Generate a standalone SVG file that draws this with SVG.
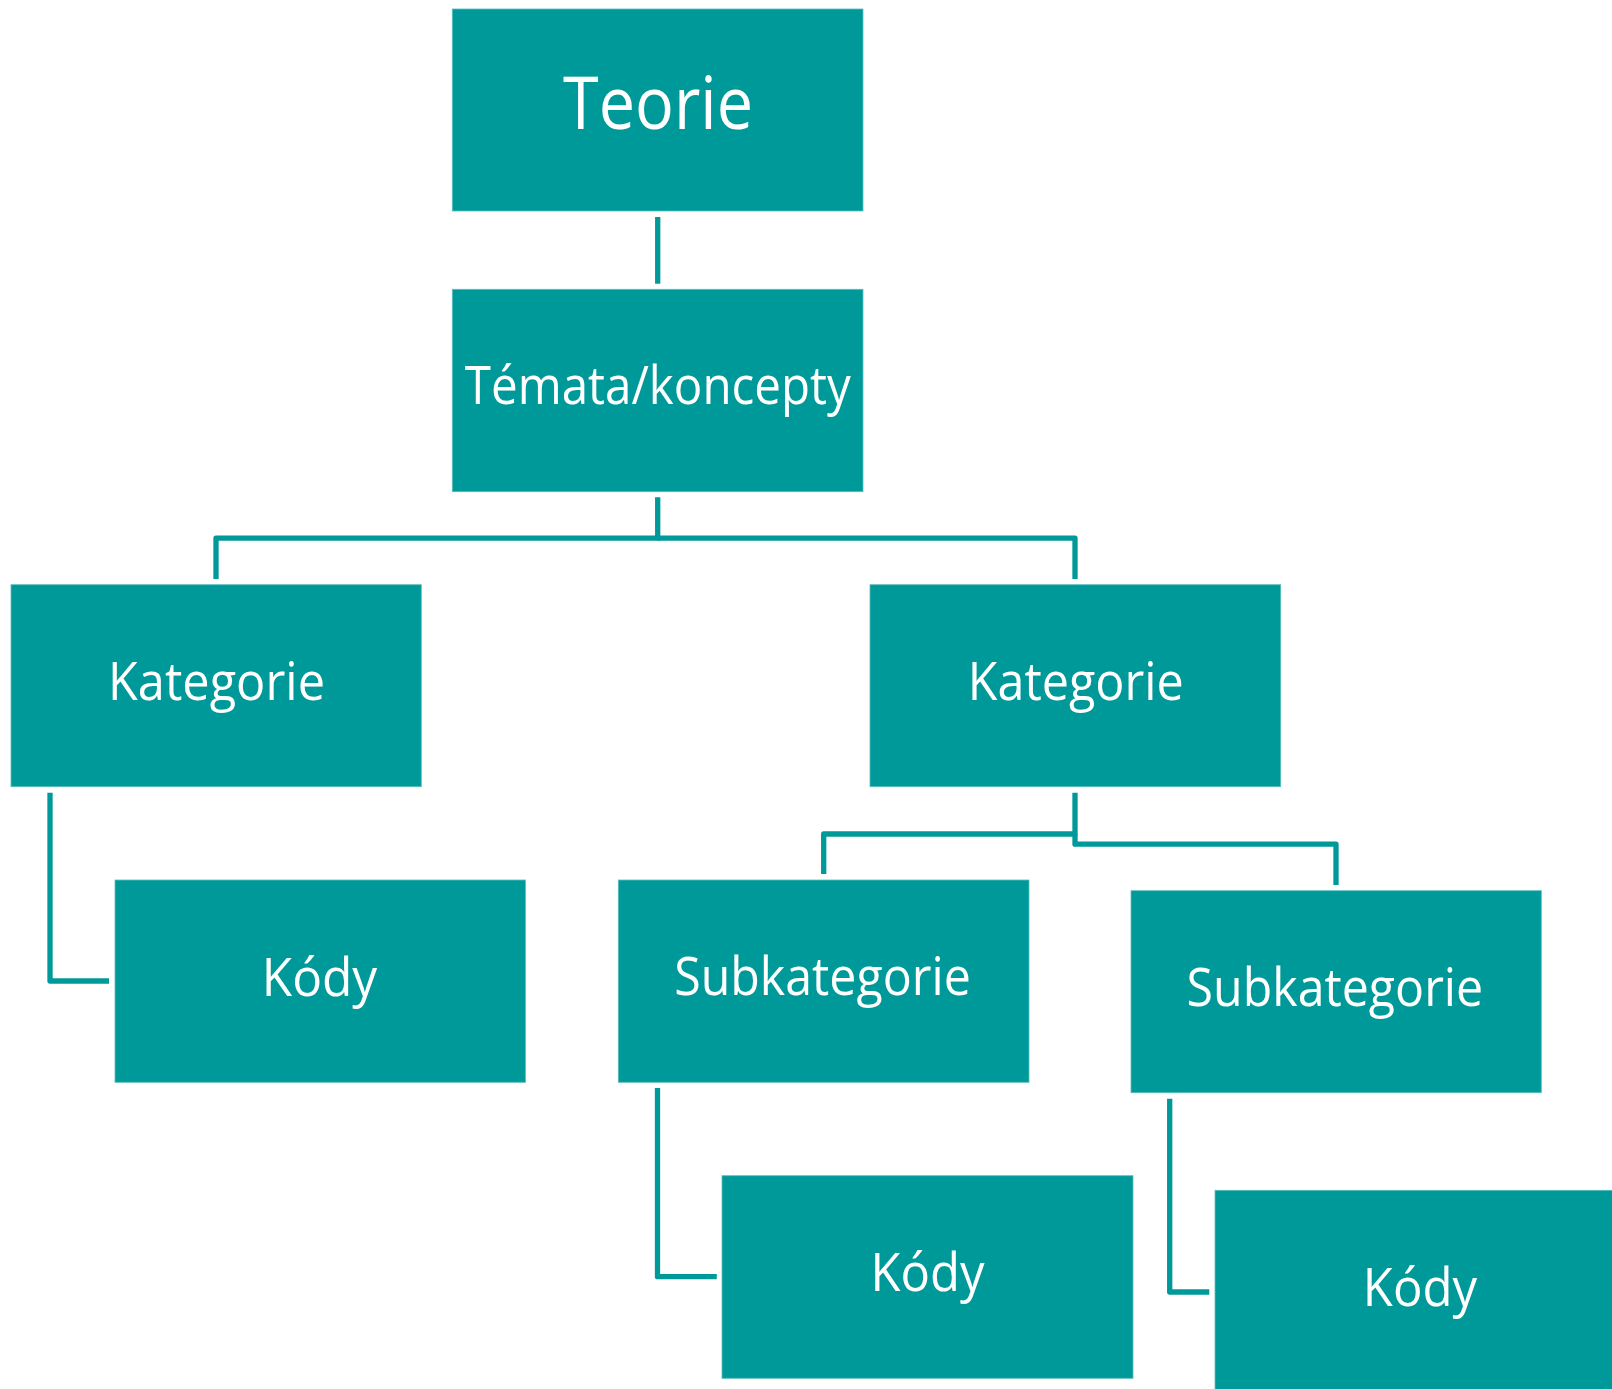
<svg xmlns="http://www.w3.org/2000/svg" width="1612" height="1389" viewBox="0 0 1612 1389">
<style>
.box{fill:#009999;stroke:#5cbdbd;stroke-width:0.8}
.lbl{fill:#ffffff;font-family:"Open Sans","Noto Sans","DejaVu Sans",sans-serif;font-size:53px;text-anchor:middle}
.big{font-size:74px}
.con{fill:none;stroke:#009999;stroke-width:5.3;stroke-linejoin:round;stroke-linecap:butt}
</style>
<rect width="1612" height="1389" fill="#ffffff"/>
<g id="connectors">
<path class="con" d="M657.7 217 V283.7"/>
<path class="con" d="M657.7 497.3 V538.2 H216 V579"/>
<path class="con" d="M657.7 538.2 H1075 V579"/>
<path class="con" d="M50 792.7 V981 H109"/>
<path class="con" d="M1075 792.7 V834 H823.7 V874"/>
<path class="con" d="M1075 834 V844.2 H1336 V885"/>
<path class="con" d="M657.5 1088 V1276.7 H716.8"/>
<path class="con" d="M1169.7 1098.7 V1292 H1209.3"/>
</g>
<g id="teorie">
<rect class="box" x="452.3" y="9" width="410.7" height="202"/>
<text class="lbl big" x="658" y="129.3" textLength="190" lengthAdjust="spacingAndGlyphs">Teorie</text>
</g>
<g id="temata">
<rect class="box" x="452.3" y="289.3" width="410.7" height="202.4"/>
<text class="lbl" x="657.8" y="404" textLength="386" lengthAdjust="spacingAndGlyphs">Témata/koncepty</text>
</g>
<g id="kategorie-left">
<rect class="box" x="11" y="584.7" width="410.3" height="202"/>
<text class="lbl" x="216.5" y="700" textLength="217" lengthAdjust="spacingAndGlyphs">Kategorie</text>
</g>
<g id="kategorie-right">
<rect class="box" x="870" y="584.7" width="410.7" height="202"/>
<text class="lbl" x="1075.8" y="700" textLength="216" lengthAdjust="spacingAndGlyphs">Kategorie</text>
</g>
<g id="kody-left">
<rect class="box" x="115" y="880" width="410.4" height="202.3"/>
<text class="lbl" x="319.5" y="995.7" textLength="115.5" lengthAdjust="spacingAndGlyphs">Kódy</text>
</g>
<g id="subkategorie-left">
<rect class="box" x="618.3" y="880" width="410.7" height="202.3"/>
<text class="lbl" x="822.5" y="995" textLength="296.6" lengthAdjust="spacingAndGlyphs">Subkategorie</text>
</g>
<g id="subkategorie-right">
<rect class="box" x="1131" y="890.7" width="410.3" height="202"/>
<text class="lbl" x="1334.9" y="1005.7" textLength="296.6" lengthAdjust="spacingAndGlyphs">Subkategorie</text>
</g>
<g id="kody-middle">
<rect class="box" x="722" y="1175.7" width="411" height="202.6"/>
<text class="lbl" x="927.5" y="1290.7" textLength="114" lengthAdjust="spacingAndGlyphs">Kódy</text>
</g>
<g id="kody-right">
<rect class="box" x="1215" y="1190.3" width="410.7" height="202"/>
<text class="lbl" x="1420" y="1306" textLength="114.3" lengthAdjust="spacingAndGlyphs">Kódy</text>
</g>
</svg>
